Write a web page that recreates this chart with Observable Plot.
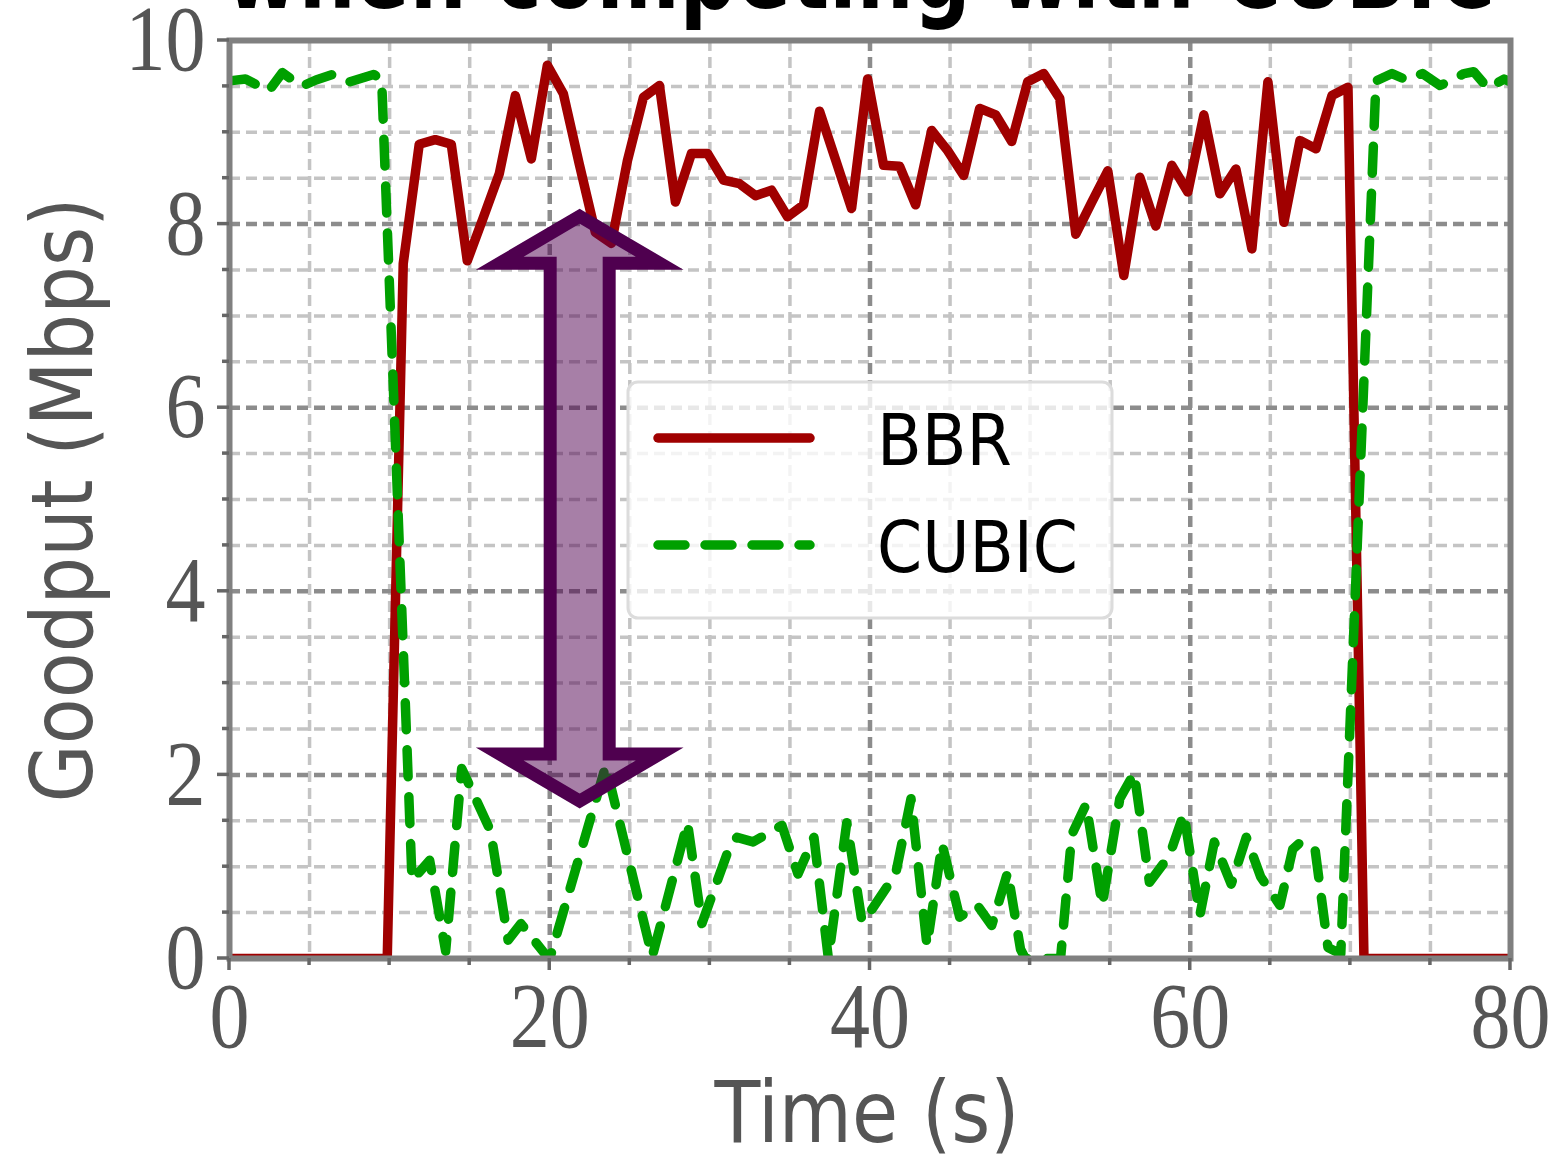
<!DOCTYPE html>
<html>
<head>
<meta charset="utf-8">
<script src="https://cdn.jsdelivr.net/npm/d3@7"></script>
<script src="https://cdn.jsdelivr.net/npm/@observablehq/plot@0.6"></script>
<style>
  body { margin: 0; background: #fff; }
  #chart { position: relative; width: 1558px; height: 1164px; overflow: hidden; }
</style>
</head>
<body>
<div id="chart"></div>
<script>
// ---- data ----
const seriesNames = ["BBR", "CUBIC"];
const titleText = "when competing with CUBIC";
const xLabel = "Time (s)";
const yLabel = "Goodput (Mbps)";

const bbrTime = [0, 9.85, 10.85, 11.85, 12.85, 13.85, 14.85, 15.85, 16.85, 17.85, 18.85, 19.85, 20.85,
  21.85, 22.85, 23.85, 24.85, 25.85, 26.85, 27.85, 28.85, 29.85, 30.85, 31.85, 32.85, 33.85, 34.85,
  35.85, 36.85, 37.85, 38.85, 39.85, 40.85, 41.85, 42.85, 43.85, 44.85, 45.85, 46.85, 47.85, 48.85,
  49.85, 50.85, 51.85, 52.85, 53.85, 54.85, 55.85, 56.85, 57.85, 58.85, 59.85, 60.85, 61.85, 62.85,
  63.85, 64.85, 65.85, 66.85, 67.85, 68.85, 69.85, 70.85, 80];
const bbrGoodput = [0, 0, 7.57, 8.87, 8.92, 8.87, 7.60, 8.07, 8.55, 9.40, 8.71, 9.73, 9.42,
  8.65, 7.91, 7.79, 8.69, 9.38, 9.51, 8.24, 8.77, 8.77, 8.48, 8.44, 8.31, 8.37, 8.08,
  8.21, 9.23, 8.70, 8.17, 9.58, 8.64, 8.63, 8.21, 9.02, 8.80, 8.53, 9.26, 9.19, 8.90,
  9.55, 9.64, 9.37, 7.89, 8.24, 8.58, 7.44, 8.51, 7.98, 8.64, 8.35, 9.19, 8.33, 8.60,
  7.73, 9.55, 8.02, 8.91, 8.82, 9.40, 9.49, 0, 0];

const cubicTime = [0, 1.0, 2.45, 3.3, 4.5, 5.4, 6.45, 7.5, 9.0, 9.5, 11.4, 12.5, 13.5, 14.5, 16.3,
  17.4, 18.2, 19.7, 20.0, 23.5, 26.4, 28.6, 29.5, 31.3, 31.7, 32.7, 34.5, 35.5, 36.5, 37.4, 38.55,
  39.5, 40.06, 41.6, 42.56, 43.56, 44.5, 45.6, 46.7, 47.6, 48.6, 49.4, 49.7, 51.9, 52.6, 53.5, 54.5,
  55.6, 56.5, 57.45, 58.7, 59.6, 60.6, 61.5, 62.56, 63.5, 64.4, 65.6, 66.4, 66.9, 67.8, 68.6, 69.4,
  71.6, 72.6, 73.5, 74.5, 75.6, 76.1, 77.1, 77.7, 78.6, 79.6, 80];
const cubicGoodput = [9.56, 9.58, 9.45, 9.65, 9.50, 9.57, 9.63, 9.55, 9.63, 9.58, 0.85, 1.07, 0.08, 2.07, 1.39,
  0.20, 0.38, 0.05, 0, 2.10, 0.02, 1.48, 0.38, 1.25, 1.32, 1.27, 1.45, 0.92, 1.32, 0, 1.48,
  0.40, 0.52, 0.92, 1.74, 0.14, 1.25, 0.45, 0.58, 0.36, 0.94, 0.10, 0, 0, 1.35, 1.68, 0.58,
  1.74, 2.02, 0.83, 1.12, 1.58, 0.47, 1.27, 0.81, 1.32, 0.89, 0.58, 1.19, 1.27, 1.18, 0.12, 0.05,
  9.56, 9.64, 9.57, 9.64, 9.51, 9.55, 9.64, 9.66, 9.48, 9.58, 9.55];

const xTicks = [0, 20, 40, 60, 80];
const xMinor = [5, 10, 15, 25, 30, 35, 45, 50, 55, 65, 70, 75];
const yTicks = [0, 2, 4, 6, 8, 10];
const yMinor = [0.5, 1, 1.5, 2.5, 3, 3.5, 4.5, 5, 5.5, 6.5, 7, 7.5, 8.5, 9, 9.5];
const xGridMajor = [20, 40, 60];
const yGridMajor = [2, 4, 6, 8];

// annotation arrow (data coordinates)
const arrowTime = 21.9;
const arrowTop = 8.08;
const arrowBottom = 1.71;

// ---- build tables ----
const bbr = bbrTime.map((t, i) => ({t, v: bbrGoodput[i], s: seriesNames[0]}));
const cubic = cubicTime.map((t, i) => ({t, v: cubicGoodput[i], s: seriesNames[1]}));

const RED = "#a00000", GREEN = "#00a000", PURPLE = "#4f004f";
const LINE_W = 9.5;
const CUBIC_DASH = "27,20";

function decorations(index, scales) {
  const x = scales.x, y = scales.y;
  const g = d3.create("svg:g").attr("class", "deco").attr("text-anchor", "start");
  const x0 = x(0), y0 = y(0);

  // tick marks
  const tk = g.append("g").attr("stroke", "#666").attr("stroke-width", 3.5);
  for (const v of xTicks) tk.append("line").attr("x1", x(v)).attr("x2", x(v)).attr("y1", y0).attr("y2", y0 + 12);
  for (const v of xMinor) tk.append("line").attr("x1", x(v)).attr("x2", x(v)).attr("y1", y0).attr("y2", y0 + 7);
  for (const v of yTicks) tk.append("line").attr("y1", y(v)).attr("y2", y(v)).attr("x1", x0).attr("x2", x0 - 12);
  for (const v of yMinor) tk.append("line").attr("y1", y(v)).attr("y2", y(v)).attr("x1", x0).attr("x2", x0 - 7);

  // double-headed arrow
  const cx = x(arrowTime), yt = y(arrowTop), yb = y(arrowBottom);
  const hl = 47, hw = 80, sw = 29.5;
  const pts = [[cx, yt], [cx + hw, yt + hl], [cx + sw, yt + hl], [cx + sw, yb - hl], [cx + hw, yb - hl],
    [cx, yb], [cx - hw, yb - hl], [cx - sw, yb - hl], [cx - sw, yt + hl], [cx - hw, yt + hl]];
  g.append("path")
    .attr("d", "M" + pts.map(p => p.join(",")).join("L") + "Z")
    .attr("fill", PURPLE).attr("fill-opacity", 0.5)
    .attr("stroke", PURPLE).attr("stroke-width", 13)
    .attr("stroke-linejoin", "miter").attr("stroke-miterlimit", 10);

  // legend
  const lg = g.append("g");
  lg.append("rect").attr("x", 628).attr("y", 382).attr("width", 484).attr("height", 236)
    .attr("rx", 10).attr("fill", "#fff").attr("fill-opacity", 0.8)
    .attr("stroke", "#dcdcdc").attr("stroke-width", 3);
  lg.append("line").attr("x1", 658).attr("x2", 810).attr("y1", 438).attr("y2", 438)
    .attr("stroke", RED).attr("stroke-width", LINE_W).attr("stroke-linecap", "round");
  lg.append("line").attr("x1", 658).attr("x2", 810).attr("y1", 545).attr("y2", 545)
    .attr("stroke", GREEN).attr("stroke-width", LINE_W).attr("stroke-linecap", "round")
    .attr("stroke-dasharray", CUBIC_DASH);
  lg.append("text").attr("x", 877).attr("y", 465).attr("text-anchor", "start").text(seriesNames[0])
    .attr("font-family", "'DejaVu Sans', sans-serif").attr("font-size", 72).attr("fill", "#000")
    .attr("textLength", 135).attr("lengthAdjust", "spacingAndGlyphs");
  lg.append("text").attr("x", 877).attr("y", 572).attr("text-anchor", "start").text(seriesNames[1])
    .attr("font-family", "'DejaVu Sans', sans-serif").attr("font-size", 72).attr("fill", "#000")
    .attr("textLength", 201).attr("lengthAdjust", "spacingAndGlyphs");

  // axis titles
  g.append("text").attr("x", 867).attr("y", 1142).attr("text-anchor", "middle").text(xLabel)
    .attr("font-family", "'DejaVu Sans', sans-serif").attr("font-size", 86).attr("fill", "#555")
    .attr("textLength", 305).attr("lengthAdjust", "spacingAndGlyphs");
  g.append("text").attr("transform", "translate(92,500) rotate(-90)").attr("text-anchor", "middle").text(yLabel)
    .attr("font-family", "'DejaVu Sans', sans-serif").attr("font-size", 86).attr("fill", "#555")
    .attr("textLength", 605).attr("lengthAdjust", "spacingAndGlyphs");

  // title (cut off at the top, as in the reference)
  g.append("text").attr("x", 860).attr("y", 8).attr("text-anchor", "middle").text(titleText)
    .attr("font-family", "'DejaVu Sans', sans-serif").attr("font-weight", "bold").attr("font-size", 104)
    .attr("fill", "#000").attr("textLength", 1270).attr("lengthAdjust", "spacingAndGlyphs");
  return g.node();
}

const svg = Plot.plot({
  width: 1558,
  height: 1164,
  marginLeft: 229,
  marginRight: 48,
  marginTop: 40,
  marginBottom: 206,
  style: {fontFamily: "'Liberation Serif', serif", fontSize: "93px", color: "#555", background: "#fff"},
  x: {domain: [0, 80], ticks: xTicks, tickSize: 0, tickPadding: 22, tickFormat: d => String(d), label: null},
  y: {domain: [0, 10], ticks: yTicks, tickSize: 0, tickPadding: 24, tickFormat: d => String(d), label: null},
  marks: [
    Plot.ruleX(xMinor, {stroke: "#c4c4c4", strokeWidth: 3.5, strokeDasharray: "11,6"}),
    Plot.ruleY(yMinor, {stroke: "#c4c4c4", strokeWidth: 3.5, strokeDasharray: "11,6"}),
    Plot.ruleX(xGridMajor, {stroke: "#8c8c8c", strokeWidth: 4.5, strokeDasharray: "11,6"}),
    Plot.ruleY(yGridMajor, {stroke: "#8c8c8c", strokeWidth: 4.5, strokeDasharray: "11,6"}),
    Plot.line(bbr, {x: "t", y: "v", stroke: RED, strokeWidth: LINE_W, strokeLinejoin: "round", clip: true}),
    Plot.line(cubic, {x: "t", y: "v", stroke: GREEN, strokeWidth: LINE_W, strokeDasharray: CUBIC_DASH,
      strokeLinecap: "round", strokeLinejoin: "round", clip: true}),
    Plot.frame({stroke: "#808080", strokeWidth: 6}),
    decorations
  ]
});

document.getElementById("chart").append(svg);

// condense the tick labels like the reference's narrow serif digits
svg.querySelectorAll("text").forEach(t => {
  if (t.closest(".deco")) return;
  const g = t.closest("g[aria-label]");
  const lab = g ? g.getAttribute("aria-label") : "";
  if (/axis/.test(lab)) {
    t.setAttribute("textLength", t.textContent.length * 40);
    t.setAttribute("lengthAdjust", "spacingAndGlyphs");
  }
});
</script>
</body>
</html>
